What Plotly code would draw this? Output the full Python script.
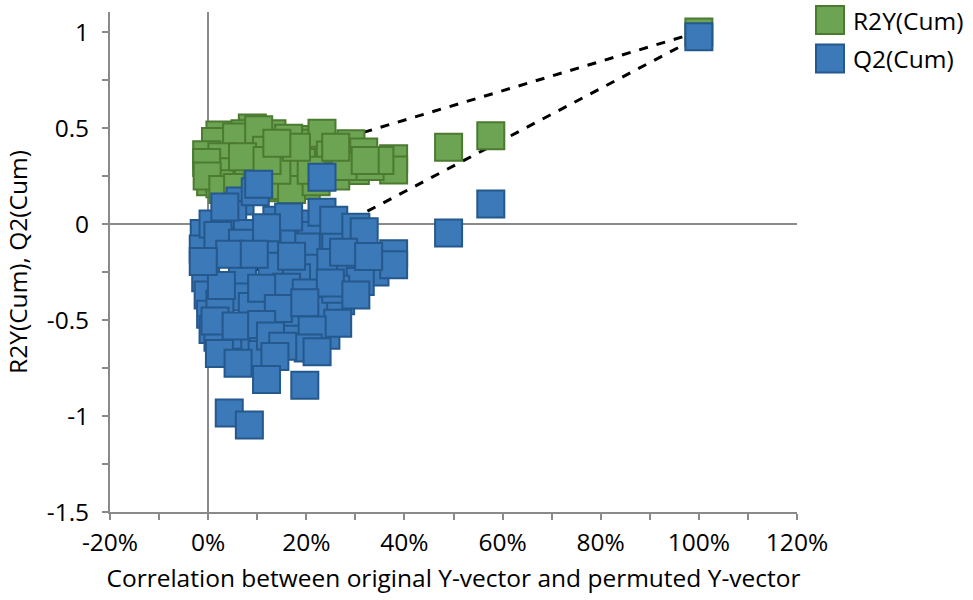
import plotly.graph_objects as go

# ---- data (x in % correlation, y values) ----
r2_x = [2.4, 9.0, 13.0, 7.5, 19.5, 21.5, 1.5, -0.3, 0.5, 1.0,
        5.8, 10.3, 16.4, 23.2, 29.1, 11.9, 17.1, 24.9, 27.5, 31.7,
        37.8, 37.8, 30.0, 2.8, 4.3, 2.4, -0.3, -0.2, 8.2, 15.0,
        20.0, 3.0, 6.0, 13.0, 17.0, 22.0, 26.0, 28.0, 33.0, 35.0,
        19.0, 21.0, 14.0, 10.0, 7.0, 12.0, 26.0, 32.0, 18.0, 14.0,
        49.0, 57.6, 100.0]
r2_y = [0.464, 0.50, 0.47, 0.47, 0.44, 0.42, 0.43, 0.36, 0.22, 0.29,
        0.453, 0.491, 0.446, 0.472, 0.418, 0.384, 0.349, 0.359, 0.342, 0.375,
        0.340, 0.281, 0.278, 0.350, 0.272, 0.210, 0.320, 0.250, 0.281, 0.189,
        0.200, 0.18, 0.19, 0.20, 0.18, 0.22, 0.25, 0.30, 0.30, 0.33,
        0.32, 0.28, 0.28, 0.25, 0.35, 0.33, 0.40, 0.33, 0.40, 0.42,
        0.40, 0.46, 1.0]

q2_x = [-0.8, -1.0, -0.5, 0.0, 0.5, 1.0, 6.5, 5.0, 1.0, 2.0,
        8.0, 14.0, 19.0, 21.0, 26.0, 20.0, 15.0, 7.0, 12.0, 13.0,
        7.0, 21.0, 18.0, 25.0, 29.0, 34.0, 31.0, 16.0, 6.0, 9.0,
        20.0, 23.0, 27.0, 24.0, 17.0, 8.0, 4.0, 11.0, 17.0, 26.0,
        23.2, 9.6, 10.3, 3.4, 16.4, 11.9, 23.2, 25.6, 30.1, 31.8,
        27.6, 4.4, 17.0, 37.8, 37.8, 32.7, 24.9, 30.1, 10.9, 2.4,
        14.3, 2.7, -1.0, 9.4, 19.7, 2.0, 1.4, 5.7, 10.9, 12.7,
        26.4, 21.2, 20.4, 22.2, 15.2, 13.6, 2.3, 6.1, 11.9, 19.7,
        4.3, 8.4, 49.0, 57.6, 100.0]
q2_y = [-0.05, -0.13, -0.28, -0.37, -0.47, -0.55, 0.12, 0.05, 0.0, -0.06,
        -0.05, 0.02, 0.0, -0.06, -0.08, -0.12, -0.10, -0.10, -0.12, -0.22,
        -0.25, -0.23, -0.28, -0.20, -0.25, -0.25, -0.30, -0.33, -0.38, -0.43,
        -0.36, -0.45, -0.40, -0.58, -0.50, -0.62, -0.58, -0.68, -0.60, -0.34,
        0.243, 0.168, 0.207, 0.089, 0.036, -0.019, 0.061, 0.019, -0.017, -0.040,
        -0.147, -0.158, -0.168, -0.155, -0.212, -0.170, -0.307, -0.370, -0.335, -0.418,
        -0.440, -0.320, -0.196, -0.158, -0.410, -0.590, -0.505, -0.531, -0.524, -0.583,
        -0.517, -0.552, -0.646, -0.665, -0.637, -0.690, -0.674, -0.725, -0.810, -0.840,
        -0.985, -1.047, -0.047, 0.104, 0.975]

line_x = [0, 100]
r2_line = [0.235, 1.0]
q2_line = [-0.37, 0.975]

x_ticks = [-20, 0, 20, 40, 60, 80, 100, 120]
x_tick_text = ["-20%", "0%", "20%", "40%", "60%", "80%", "100%", "120%"]
y_ticks = [-1.5, -1, -0.5, 0, 0.5, 1]
y_tick_text = ["-1.5", "-1", "-0.5", "0", "0.5", "1"]

series_names = ["R2Y(Cum)", "Q2(Cum)"]

GREEN = "#6ca453"
GREEN_LINE = "#4b7a30"
BLUE = "#3b79b9"
BLUE_LINE = "#25588c"
AXIS = "#8a8a8a"
FONT = "Open Sans"
FS = 24.5

fig = go.Figure()

fig.add_trace(go.Scatter(x=line_x, y=r2_line, mode="lines",
                         line=dict(color="black", width=3, dash="dash"),
                         showlegend=False, hoverinfo="skip"))
fig.add_trace(go.Scatter(x=line_x, y=q2_line, mode="lines",
                         line=dict(color="black", width=3, dash="dash"),
                         showlegend=False, hoverinfo="skip"))

fig.add_trace(go.Scatter(x=r2_x, y=r2_y, mode="markers", name=series_names[0],
                         marker=dict(symbol="square", size=27, color=GREEN,
                                     line=dict(color=GREEN_LINE, width=2)),
                         showlegend=False))
fig.add_trace(go.Scatter(x=q2_x, y=q2_y, mode="markers", name=series_names[1],
                         marker=dict(symbol="square", size=27, color=BLUE,
                                     line=dict(color=BLUE_LINE, width=2)),
                         showlegend=False))

# custom legend (large squares)
L, R, T, B = 110, 797, 12, 512
W, H = R - L, B - T
def px(xp):
    return (xp - L) / W
def py(yp):
    return (B - yp) / H

shapes = []
annotations = []
for i, (name, fc, lc) in enumerate([(series_names[0], GREEN, GREEN_LINE),
                                     (series_names[1], BLUE, BLUE_LINE)]):
    yc = 20 + i * 38.5
    shapes.append(dict(type="rect", xref="paper", yref="paper",
                       x0=px(816), x1=px(844), y0=py(yc + 14), y1=py(yc - 14),
                       fillcolor=fc, line=dict(color=lc, width=2), layer="above"))
    annotations.append(dict(xref="paper", yref="paper", x=px(851), y=py(yc),
                            xanchor="left", yanchor="middle", text=name,
                            showarrow=False,
                            font=dict(family=FONT, size=FS, color="black")))

fig.update_layout(
    width=973, height=600,
    margin=dict(l=L, r=973 - R, t=T, b=600 - B),
    paper_bgcolor="white", plot_bgcolor="white",
    font=dict(family=FONT, size=FS, color="black"),
    shapes=shapes, annotations=annotations,
    showlegend=False,
    xaxis=dict(range=[-20, 120], tickvals=x_ticks, ticktext=x_tick_text,
               showgrid=False, showline=True, linecolor=AXIS, linewidth=2,
               zeroline=True, zerolinecolor=AXIS, zerolinewidth=2,
               ticks="outside", ticklen=6, tickwidth=2, tickcolor=AXIS,
               ticklabelstandoff=2,
               minor=dict(dtick=10, ticks="outside", ticklen=6, tickwidth=2,
                          tickcolor=AXIS, showgrid=False),
               tickfont=dict(family=FONT, size=FS, color="black"),
               title=dict(text="Correlation between original Y-vector and permuted Y-vector",
                          font=dict(family=FONT, size=FS, color="black"), standoff=12)),
    yaxis=dict(range=[-1.5, 1.104], tickvals=y_ticks, ticktext=y_tick_text,
               showgrid=False, showline=True, linecolor=AXIS, linewidth=2,
               zeroline=True, zerolinecolor=AXIS, zerolinewidth=2,
               ticks="outside", ticklen=6, tickwidth=2, tickcolor=AXIS,
               ticklabelstandoff=8,
               minor=dict(dtick=0.25, ticks="outside", ticklen=6, tickwidth=2,
                          tickcolor=AXIS, showgrid=False),
               tickfont=dict(family=FONT, size=FS, color="black"),
               title=dict(text="R2Y(Cum), Q2(Cum)",
                          font=dict(family=FONT, size=FS, color="black"), standoff=12)),
)

fig.write_html("out.html")
